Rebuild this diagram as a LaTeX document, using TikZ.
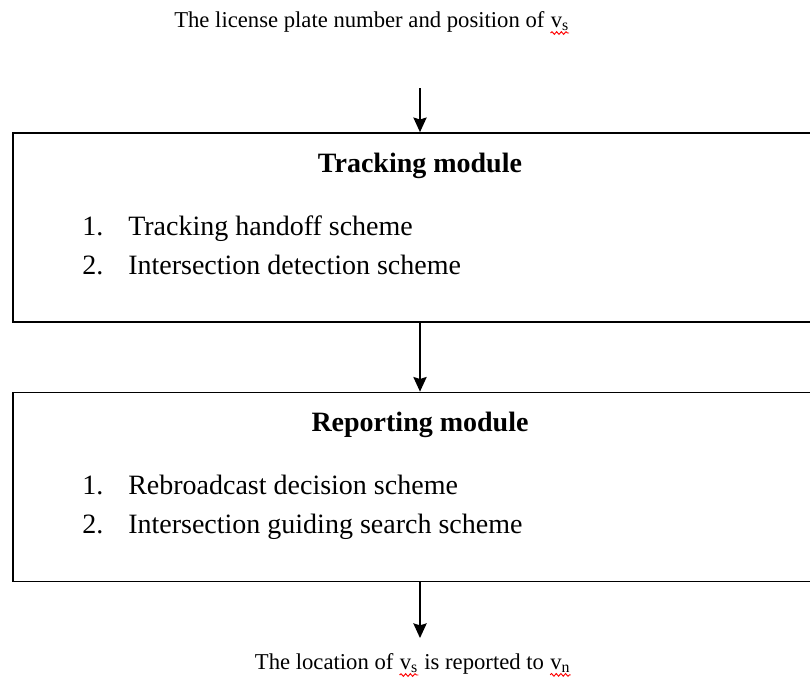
\documentclass[tikz,border=0pt]{standalone}
\usepackage{fontspec}
\setmainfont{Liberation Serif}
\usetikzlibrary{arrows.meta,decorations.pathmorphing}

% red spell-check wave under a word
\newcommand\redwave[1]{\tikz[baseline=(w.base)]{\node[inner sep=0pt] (w) {#1};
    \draw[red, line width=0.7pt, decorate, decoration={snake, amplitude=1pt, segment length=3.5pt}]
      ([yshift=-1.5pt]w.south west) -- ([yshift=-1.5pt]w.south east);}}

\begin{document}
\begin{tikzpicture}[x=0.75pt,y=-0.75pt,
    outer/.style={font=\fontsize{17}{20}\selectfont},
    item/.style={font=\fontsize{21}{25}\selectfont, anchor=base west, inner sep=0pt},
    title/.style={font=\fontsize{21}{25}\selectfont\bfseries, inner sep=0pt},
    module/.style={draw, line width=1.3pt, minimum width=612.75pt, minimum height=141.75pt},
    flow/.style={line width=1pt, -{Stealth[length=11pt,width=10pt,inset=1.5pt]}}]
    \useasboundingbox (0,0) rectangle (810,683);

    % input and output texts
    \node[outer] (input) at (372,23) {The license plate number and position of \redwave{v\textsubscript{s}}};
    \node[outer] (output) at (413,665) {The location of \redwave{v\textsubscript{s}} is reported to \redwave{v\textsubscript{n}}};

    % tracking module
    \node[module] (track) at (421.5,227.5) {};
    \node[title] (tracktitle) at (420,166) {Tracking module};
    \node[item] (tnum1) at (82,235) {1.};
    \node[item] (titem1) at (128,235) {Tracking handoff scheme};
    \node[item] (tnum2) at (82,274) {2.};
    \node[item] (titem2) at (128,274) {Intersection detection scheme};

    % reporting module
    \node[module] (report) at (421.5,487) {};
    \node[title] (reporttitle) at (420,425) {Reporting module};
    \node[item] (rnum1) at (82,494) {1.};
    \node[item] (ritem1) at (128,494) {Rebroadcast decision scheme};
    \node[item] (rnum2) at (82,533) {2.};
    \node[item] (ritem2) at (128,533) {Intersection guiding search scheme};

    % arrows
    \coordinate (instart) at (420,88);
    \coordinate (outend) at (420,638);
    \draw[flow] (instart) -- (instart |- track.north);
    \draw[flow] (track.south -| instart) -- (report.north -| instart);
    \draw[flow] (report.south -| instart) -- (outend);
\end{tikzpicture}
\end{document}
